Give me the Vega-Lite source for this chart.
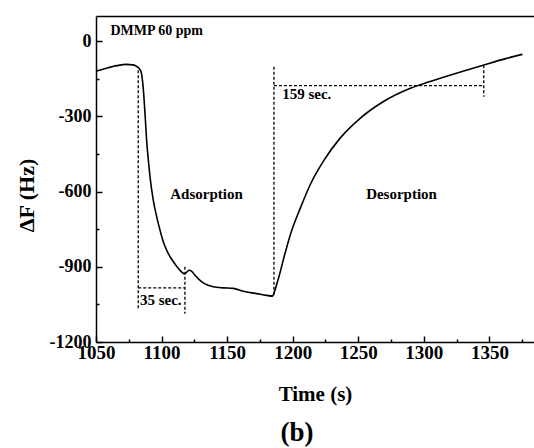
{
  "$schema": "https://vega.github.io/schema/vega-lite/v6.json",
  "width": 438,
  "height": 326,
  "autosize": "none",
  "padding": {"left": 96, "top": 16, "right": 0, "bottom": 106},
  "background": "white",
  "config": {"view": {"stroke": null}, "font": "Liberation Serif"},
  "title": {"text": "(b)", "orient": "bottom", "fontSize": 27, "fontWeight": "bold", "font": "Liberation Serif", "color": "black", "dx": -18, "offset": 16},
  "datasets": {
    "curve": [
      {"t": 1050, "df": -120}, {"t": 1058, "df": -108}, {"t": 1066, "df": -98}, {"t": 1073, "df": -93},
      {"t": 1078, "df": -95}, {"t": 1081, "df": -101}, {"t": 1083, "df": -110}, {"t": 1084.5, "df": -125},
      {"t": 1085.5, "df": -160}, {"t": 1086.5, "df": -220}, {"t": 1087.5, "df": -300}, {"t": 1088.6, "df": -395},
      {"t": 1090, "df": -480}, {"t": 1091.2, "df": -542}, {"t": 1093.7, "df": -635}, {"t": 1096.3, "df": -701},
      {"t": 1098.8, "df": -754}, {"t": 1101, "df": -795}, {"t": 1103.9, "df": -834}, {"t": 1106.5, "df": -860},
      {"t": 1109, "df": -880}, {"t": 1111.5, "df": -898}, {"t": 1114, "df": -914}, {"t": 1116, "df": -924},
      {"t": 1117.5, "df": -928}, {"t": 1119, "df": -922}, {"t": 1121, "df": -914}, {"t": 1123, "df": -918},
      {"t": 1125.5, "df": -934}, {"t": 1128.5, "df": -950}, {"t": 1131.8, "df": -964}, {"t": 1135.5, "df": -974},
      {"t": 1139.4, "df": -980}, {"t": 1147, "df": -984}, {"t": 1154.6, "df": -986}, {"t": 1162.3, "df": -998},
      {"t": 1172.5, "df": -1007}, {"t": 1180, "df": -1014}, {"t": 1184.6, "df": -1017}, {"t": 1186.2, "df": -998},
      {"t": 1187.8, "df": -970}, {"t": 1189.5, "df": -940}, {"t": 1193.4, "df": -861}, {"t": 1198.5, "df": -767},
      {"t": 1206.2, "df": -661}, {"t": 1213.8, "df": -568}, {"t": 1223.9, "df": -475}, {"t": 1236, "df": -388},
      {"t": 1251.2, "df": -309}, {"t": 1268.9, "df": -242}, {"t": 1289.3, "df": -189}, {"t": 1299.5, "df": -170},
      {"t": 1319.8, "df": -136}, {"t": 1345.2, "df": -96}, {"t": 1363, "df": -69}, {"t": 1375.2, "df": -53}
    ],
    "segments": [
      {"x1": 1082.2, "y1": -116, "x2": 1082.2, "y2": -1073},
      {"x1": 1082.2, "y1": -984, "x2": 1117.8, "y2": -984},
      {"x1": 1117.8, "y1": -900, "x2": 1117.8, "y2": -1087},
      {"x1": 1185.7, "y1": -102, "x2": 1185.7, "y2": -1014},
      {"x1": 1185.7, "y1": -178, "x2": 1345.7, "y2": -178},
      {"x1": 1345.7, "y1": -96, "x2": 1345.7, "y2": -222}
    ],
    "header": [{"t": 1061, "df": 24, "label": "DMMP 60 ppm"}],
    "times": [
      {"t": 1083.5, "df": -1053, "label": "35 sec."},
      {"t": 1192, "df": -231, "label": "159 sec."}
    ],
    "phases": [
      {"t": 1134.3, "df": -628, "label": "Adsorption"},
      {"t": 1283, "df": -628, "label": "Desorption"}
    ]
  },
  "layer": [
    {
      "data": {"name": "curve"},
      "mark": {"type": "line", "color": "black", "strokeWidth": 1.6, "interpolate": "monotone"},
      "encoding": {
        "x": {"field": "t", "type": "quantitative",
          "scale": {"domain": [1050, 1384], "nice": false, "zero": false},
          "axis": {"orient": "bottom", "values": [1050, 1100, 1150, 1200, 1250, 1300, 1350], "labelExpr": "'' + datum.value",
            "labelFlush": false, "labelOverlap": false,
            "grid": false, "tickSize": -6, "tickWidth": 1.5, "tickColor": "black",
            "domainColor": "black", "domainWidth": 1.5,
            "labelFont": "Liberation Serif", "labelFontSize": 19, "labelFontWeight": "bold", "labelColor": "black", "labelPadding": 7,
            "title": "Time (s)", "titleFont": "Liberation Serif", "titleFontSize": 21, "titleFontWeight": "bold", "titleColor": "black", "titlePadding": 21}},
        "y": {"field": "df", "type": "quantitative",
          "scale": {"domain": [-1200, 100], "nice": false, "zero": false},
          "axis": {"orient": "left", "values": [-1200, -900, -600, -300, 0], "labelExpr": "'' + datum.value",
            "labelFlush": false, "labelOverlap": false,
            "grid": false, "tickSize": -6, "tickWidth": 1.5, "tickColor": "black",
            "domainColor": "black", "domainWidth": 1.5,
            "labelFont": "Liberation Serif", "labelFontSize": 18, "labelFontWeight": "bold", "labelColor": "black", "labelPadding": 11,
            "title": "ΔF (Hz)", "titleFont": "Liberation Serif", "titleFontSize": 22, "titleFontWeight": "bold", "titleColor": "black", "titlePadding": 11, "titleY": 179}}
      }
    },
    {
      "data": {"name": "segments"},
      "mark": {"type": "rule", "color": "black", "strokeWidth": 1.3, "strokeDash": [3, 2]},
      "encoding": {
        "x": {"field": "x1", "type": "quantitative",
          "axis": {"orient": "bottom", "values": [1075, 1125, 1175, 1225, 1275, 1325, 1375], "grid": false,
            "labels": false, "domain": false, "tickSize": -3, "tickWidth": 1.5, "tickColor": "black", "title": null}},
        "x2": {"field": "x2"},
        "y": {"field": "y1", "type": "quantitative",
          "axis": {"orient": "left", "values": [-1050, -750, -450, -150], "grid": false,
            "labels": false, "domain": false, "tickSize": -3, "tickWidth": 1.5, "tickColor": "black", "title": null}},
        "y2": {"field": "y2"}
      }
    },
    {
      "data": {"name": "header"},
      "mark": {"type": "text", "align": "left", "baseline": "alphabetic", "font": "Liberation Serif", "fontSize": 14, "fontWeight": "bold", "color": "black"},
      "encoding": {
        "x": {"field": "t", "type": "quantitative",
          "axis": {"orient": "top", "grid": false, "labels": false, "ticks": false, "domain": true, "domainColor": "black", "domainWidth": 1.5, "title": null}},
        "y": {"field": "df", "type": "quantitative", "axis": null},
        "text": {"field": "label"}
      }
    },
    {
      "data": {"name": "times"},
      "mark": {"type": "text", "align": "left", "baseline": "alphabetic", "font": "Liberation Serif", "fontSize": 15, "fontWeight": "bold", "color": "black"},
      "encoding": {
        "x": {"field": "t", "type": "quantitative", "axis": null},
        "y": {"field": "df", "type": "quantitative", "axis": null},
        "text": {"field": "label"}
      }
    },
    {
      "data": {"name": "phases"},
      "mark": {"type": "text", "align": "center", "baseline": "alphabetic", "font": "Liberation Serif", "fontSize": 15, "fontWeight": "bold", "color": "black"},
      "encoding": {
        "x": {"field": "t", "type": "quantitative", "axis": null},
        "y": {"field": "df", "type": "quantitative", "axis": null},
        "text": {"field": "label"}
      }
    }
  ],
  "resolve": {"axis": {"x": "independent", "y": "independent"}}
}
